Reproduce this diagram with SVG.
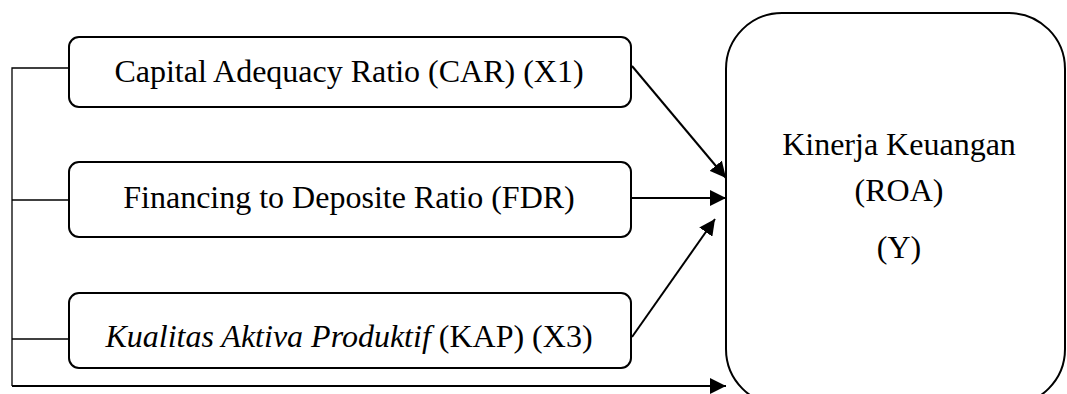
<svg xmlns="http://www.w3.org/2000/svg" width="1067" height="394" viewBox="0 0 1067 394">
<style>
.box{fill:#fff;stroke:#000;stroke-width:2}
.t{font-family:"Liberation Serif","Times New Roman",serif;font-size:32px;fill:#000;text-anchor:middle}
.c{fill:none;stroke:#000;stroke-width:2}
.l{fill:none;stroke:#000;stroke-width:1.3}
</style>
<defs>
<marker id="ah" viewBox="0 0 10 10" refX="10" refY="5" markerWidth="16" markerHeight="16" markerUnits="userSpaceOnUse" orient="auto">
<path d="M0,0 L10,5 L0,10 z" fill="#000"/>
</marker>
</defs>
<g id="connectors">
<polyline class="l" points="69,68 12,68 12,386"/>
<line class="l" x1="12" y1="200" x2="69" y2="200"/>
<line class="l" x1="12" y1="339" x2="69" y2="339"/>
<line class="c" x1="12" y1="386" x2="726" y2="386" marker-end="url(#ah)"/>
<line class="c" x1="632" y1="66" x2="726" y2="178" marker-end="url(#ah)"/>
<line class="c" x1="632" y1="198" x2="726" y2="198" marker-end="url(#ah)"/>
<line class="c" x1="632" y1="337" x2="715" y2="219" marker-end="url(#ah)"/>
</g>
<g id="x1">
<rect class="box" x="69" y="37" width="562" height="70" rx="10"/>
<text class="t" x="349" y="82">Capital Adequacy Ratio (CAR) (X1)</text>
</g>
<g id="x2">
<rect class="box" x="69" y="162" width="562" height="75" rx="10"/>
<text class="t" x="349" y="208">Financing to Deposite Ratio (FDR)</text>
</g>
<g id="x3">
<rect class="box" x="69" y="293" width="562" height="75" rx="10"/>
<text class="t" x="349" y="347"><tspan font-style="italic">Kualitas Aktiva Produktif</tspan> (KAP) (X3)</text>
</g>
<g id="y">
<rect class="box" x="726" y="13" width="339" height="392" rx="56"/>
<text class="t" x="899" y="155">Kinerja Keuangan</text>
<text class="t" x="899" y="201">(ROA)</text>
<text class="t" x="899" y="258">(Y)</text>
</g>
</svg>
